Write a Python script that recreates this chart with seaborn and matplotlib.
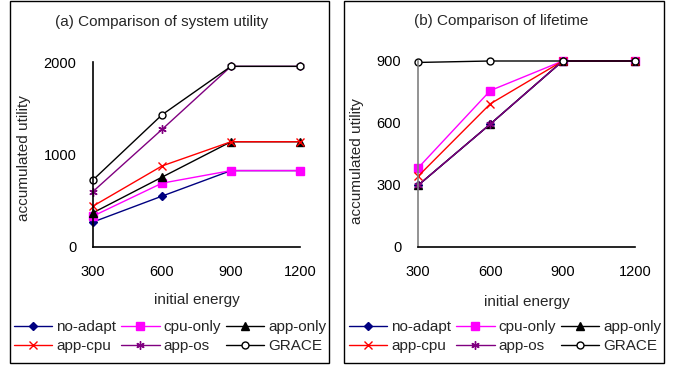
import numpy as np
import pandas as pd
import matplotlib
matplotlib.use("Agg")
import matplotlib.pyplot as plt
from matplotlib.patches import Rectangle
from matplotlib.lines import Line2D
import seaborn as sns

ENERGY = [300, 600, 900, 1200]
SERIES = ["no-adapt", "cpu-only", "app-only", "app-cpu", "app-os", "GRACE"]

# (a) accumulated utility
UTIL_NO_ADAPT = [270, 550, 826, 826]
UTIL_CPU_ONLY = [334, 690, 826, 826]
UTIL_APP_ONLY = [370, 755, 1138, 1138]
UTIL_APP_CPU = [442, 876, 1138, 1138]
UTIL_APP_OS = [600, 1271, 1953, 1953]
UTIL_GRACE = [725, 1429, 1953, 1953]

# (b) lifetime
LIFE_NO_ADAPT = [298, 595, 900, 900]
LIFE_CPU_ONLY = [382, 757, 900, 900]
LIFE_APP_ONLY = [298, 595, 900, 900]
LIFE_APP_CPU = [342, 693, 900, 900]
LIFE_APP_OS = [298, 595, 900, 900]
LIFE_GRACE = [893, 900, 900, 900]

STYLES = {
    "no-adapt": dict(color="#000080", marker="D", ms=4.2, mfc="#000080", mec="#000080"),
    "cpu-only": dict(color="#FF00FF", marker="s", ms=6, mfc="#FF00FF", mec="#FF00FF"),
    "app-only": dict(color="black", marker="^", ms=5.5, mfc="black", mec="black"),
    "app-cpu": dict(color="red", marker="x", ms=5.5, mfc="red", mec="red"),
    "app-os": dict(color="#800080", marker=(6, 2, 0), ms=6, mfc="#800080", mec="#800080"),
    "GRACE": dict(color="black", marker="o", ms=5, mfc="white", mec="black"),
}

FONT = "Liberation Sans"
sns.set_style("white")
plt.rcParams["font.family"] = [FONT, "DejaVu Sans"]


def long_frame(values):
    rows = []
    for name, vals in zip(SERIES, values):
        for e, v in zip(ENERGY, vals):
            rows.append({"energy": e, "value": v, "series": name})
    return pd.DataFrame(rows)


def draw_panel(ax, df, yticks, ylim, yaxis_color):
    for name in SERIES:
        st = STYLES[name]
        sub = df[df["series"] == name]
        sns.lineplot(data=sub, x="energy", y="value", ax=ax, color=st["color"],
                     lw=1.0, marker=st["marker"], markersize=st["ms"],
                     markerfacecolor=st["mfc"], markeredgecolor=st["mec"],
                     markeredgewidth=1.0, clip_on=False, legend=False)
    ax.set_xlim(300, 1200)
    ax.set_ylim(*ylim)
    ax.set_xticks(ENERGY)
    ax.set_yticks(yticks)
    for s in ["top", "right"]:
        ax.spines[s].set_visible(False)
    ax.spines["left"].set_color(yaxis_color)
    ax.spines["bottom"].set_color("black")
    for s in ["left", "bottom"]:
        ax.spines[s].set_linewidth(1.2)
    ax.tick_params(axis="both", direction="out", length=4, width=1.0,
                   labelsize=10.5, colors="black")
    ax.tick_params(axis="y", pad=8, color=yaxis_color)
    ax.tick_params(axis="x", pad=9)
    ax.set_xlabel("initial energy", fontsize=11)
    ax.set_ylabel("accumulated utility", fontsize=11)
    ax.patch.set_alpha(0)


def add_legend(ax, x0, y0):
    handles = []
    for name in SERIES:
        st = STYLES[name]
        handles.append(Line2D([], [], color=st["color"], lw=1.0, marker=st["marker"],
                              ms=st["ms"], mfc=st["mfc"], mec=st["mec"]))
    order = [0, 3, 1, 4, 2, 5]
    leg = ax.legend([handles[i] for i in order], [SERIES[i] for i in order],
                    ncol=3, loc="upper left", bbox_to_anchor=(x0, y0),
                    bbox_transform=ax.figure.transFigure, frameon=False,
                    fontsize=11, handlelength=2.5, handletextpad=0.25,
                    columnspacing=0.35, labelspacing=0.35, borderpad=0,
                    borderaxespad=0)
    return leg


fig = plt.figure(figsize=(6.74, 3.69), dpi=100)
W, H = 674, 369

# panel frames
for x0, x1 in [(10, 329), (344, 664)]:
    fig.patches.append(Rectangle((x0 / W, 1 - 363 / H), (x1 - x0) / W, 362 / H,
                                 transform=fig.transFigure, fill=False,
                                 edgecolor="black", lw=1.0))

ax1 = fig.add_axes([93 / W, 1 - 247 / H, (300 - 93) / W, (247 - 62) / H])
draw_panel(ax1, long_frame([UTIL_NO_ADAPT, UTIL_CPU_ONLY, UTIL_APP_ONLY,
                            UTIL_APP_CPU, UTIL_APP_OS, UTIL_GRACE]),
           [0, 1000, 2000], (0, 2000), "black")
ax1.xaxis.set_label_coords(0.5, -0.25)
ax1.yaxis.set_label_coords(-0.30, 0.48)
fig.text(162 / W, 1 - 22 / H, "(a) Comparison of system utility",
         ha="center", va="center", fontsize=11)
add_legend(ax1, 14 / W, 1 - 320 / H)

ax2 = fig.add_axes([418 / W, 1 - 247 / H, (635 - 418) / W, (247 - 61) / H])
draw_panel(ax2, long_frame([LIFE_NO_ADAPT, LIFE_CPU_ONLY, LIFE_APP_ONLY,
                            LIFE_APP_CPU, LIFE_APP_OS, LIFE_GRACE]),
           [0, 300, 600, 900], (0, 900), "#808080")
ax2.xaxis.set_label_coords(0.5, -0.26)
ax2.yaxis.set_label_coords(-0.25, 0.46)
fig.text(501 / W, 1 - 21 / H, "(b) Comparison of lifetime",
         ha="center", va="center", fontsize=11)
add_legend(ax2, 349 / W, 1 - 320 / H)

fig.savefig("out.png", dpi=100, facecolor="white")
